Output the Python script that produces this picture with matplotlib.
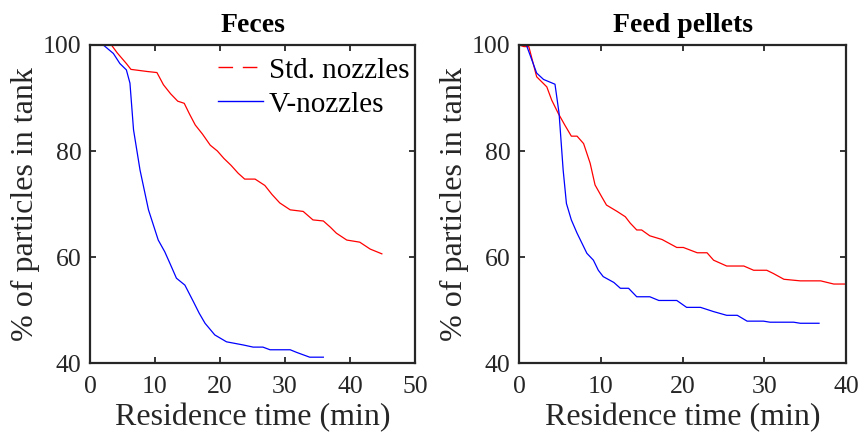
import matplotlib
matplotlib.use('Agg')
import matplotlib.pyplot as plt

plt.rcParams['font.family'] = ['Liberation Serif', 'DejaVu Serif']

# Feces - standard nozzles
fec_std_t = [0, 3.3, 4.2, 5.6, 6.3, 8.8, 10.3, 11.3, 12.4, 13.5, 14.5, 15.3, 16.2, 17.3,
             18.5, 19.6, 20.6, 21.7, 22.8, 23.8, 25.4, 26.9, 28.0, 29.2, 30.8, 32.8,
             34.3, 35.9, 37.0, 37.9, 39.5, 41.5, 43.1, 44.9]
fec_std_y = [100, 100, 98.5, 96.5, 95.4, 95.0, 94.8, 92.5, 90.8, 89.4, 89.0, 87.0, 84.9,
             83.2, 81.1, 80.0, 78.6, 77.3, 75.8, 74.7, 74.7, 73.5, 71.8, 70.2, 68.9,
             68.6, 67.0, 66.8, 65.6, 64.5, 63.2, 62.8, 61.5, 60.6]

# Feces - V-nozzles
fec_v_t = [0, 2.05, 3.6, 4.6, 5.6, 6.15, 6.7, 7.7, 9.0, 10.5, 11.5, 12.3, 13.3, 14.6,
           15.9, 16.8, 17.7, 19.2, 21.0, 23.6, 25.1, 26.6, 27.7, 30.8, 31.8, 33.8, 35.9]
fec_v_y = [100, 100, 98.4, 96.5, 95.3, 92.8, 84.0, 76.4, 68.9, 63.2, 61.0, 58.8, 56.0,
           54.7, 51.6, 49.4, 47.5, 45.3, 44.0, 43.4, 43.0, 43.0, 42.5, 42.5, 42.0,
           41.1, 41.1]

# Feed pellets - standard nozzles
pel_std_t = [0, 0.6, 1.2, 2.16, 3.4, 4.0, 4.8, 5.6, 6.4, 7.1, 7.9, 8.7, 9.3, 10.1, 10.7,
             12.0, 13.0, 13.6, 14.4, 15.0, 16.0, 17.5, 19.3, 20.1, 21.8, 23.0, 23.8,
             25.4, 27.5, 28.7, 30.3, 31.1, 32.4, 34.4, 36.9, 38.5, 40.0]
pel_std_y = [100, 99.7, 99.7, 94.0, 92.1, 89.6, 87.1, 84.9, 82.8, 82.8, 81.4, 77.7,
             73.6, 71.4, 69.8, 68.6, 67.6, 66.4, 65.1, 65.1, 64.0, 63.3, 61.8, 61.8,
             60.8, 60.8, 59.4, 58.3, 58.3, 57.5, 57.5, 56.9, 55.8, 55.5, 55.5, 54.9, 54.9]

# Feed pellets - V-nozzles
pel_v_t = [0, 0.9, 2.16, 3.0, 4.4, 4.9, 5.4, 5.8, 6.4, 7.1, 8.3, 9.1, 9.7, 10.3, 11.6,
           12.4, 13.4, 14.4, 16.0, 17.1, 19.3, 20.5, 22.2, 23.8, 25.4, 26.7, 27.9,
           29.9, 30.7, 33.6, 34.4, 36.7]
pel_v_y = [100, 100, 94.7, 93.5, 92.6, 87.1, 76.4, 70.1, 67.0, 64.5, 60.7, 59.4, 57.5,
           56.3, 55.2, 54.1, 54.1, 52.5, 52.5, 51.8, 51.8, 50.5, 50.5, 49.7, 49.0,
           49.0, 47.9, 47.9, 47.7, 47.7, 47.5, 47.5]

fig = plt.figure(figsize=(8.61, 4.42), dpi=100)
ax1 = fig.add_axes([0.1045, 0.1787, 0.3775, 0.7195])
ax2 = fig.add_axes([0.6028, 0.1787, 0.3798, 0.7195])

grey = '#262626'

ax1.plot(fec_std_t, fec_std_y, color='red', lw=0.9)
ax1.plot(fec_v_t, fec_v_y, color='blue', lw=0.9)
ax2.plot(pel_std_t, pel_std_y, color='red', lw=0.9)
ax2.plot(pel_v_t, pel_v_y, color='blue', lw=0.9)

# legend shows dashed red like the original
h1, = ax1.plot([], [], color='red', lw=1, ls=(0, (10.5, 7)))
h2, = ax1.plot([], [], color='blue', lw=1)
ax1.legend([h1, h2], ['Std. nozzles', 'V-nozzles'], frameon=False, fontsize=21,
           loc='upper right', handlelength=1.55, handletextpad=0.2,
           borderaxespad=0.0, borderpad=0.42, labelspacing=0.26,
           bbox_to_anchor=(1.02, 1.0))

for ax, title, xmax, xt in [(ax1, 'Feces', 50, range(0, 51, 10)),
                            (ax2, 'Feed pellets', 40, range(0, 41, 10))]:
    ax.set_xlim(0, xmax)
    ax.set_ylim(40, 100)
    ax.set_xticks(list(xt))
    ax.set_yticks([40, 60, 80, 100])
    ax.set_title(title, fontsize=20, fontweight='bold', pad=9)
    ax.set_xlabel('Residence time (min)', fontsize=23, color=grey, labelpad=4)
    ax.set_ylabel('% of particles in tank', fontsize=23, color=grey, labelpad=2)
    ax.tick_params(direction='in', top=True, right=True, length=4, width=1.3,
                   labelsize=18.5, colors=grey, pad=6)
    ax.tick_params(axis='x', pad=9)
    for s in ax.spines.values():
        s.set_linewidth(1.6)
        s.set_color(grey)

plt.savefig('out.png', dpi=100)
